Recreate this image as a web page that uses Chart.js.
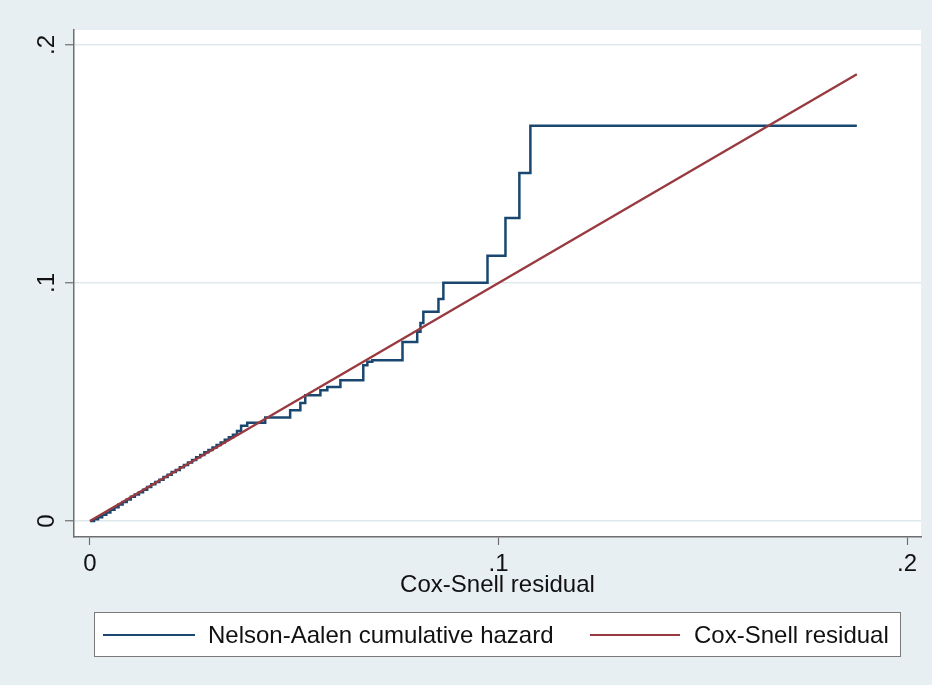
<!DOCTYPE html>
<html>
<head>
<meta charset="utf-8">
<script src="https://cdn.jsdelivr.net/npm/chart.js@4"></script>
<style>
  html, body { margin: 0; padding: 0; background: #e8eff2; }
  canvas { display: block; }
</style>
</head>
<body>
<canvas id="chart" width="932" height="685"></canvas>
<script>
// Nelson-Aalen cumulative hazard (step function)
const naX = [0, 0.001, 0.002, 0.003, 0.004, 0.005, 0.006, 0.007, 0.008, 0.009,
  0.010, 0.011, 0.012, 0.013, 0.014, 0.015, 0.016, 0.017, 0.018, 0.019,
  0.020, 0.021, 0.022, 0.023, 0.024, 0.025, 0.026, 0.027, 0.028, 0.029,
  0.030, 0.031, 0.032, 0.033, 0.034, 0.035, 0.036, 0.0370,
  0.0385, 0.0429, 0.0490, 0.0515, 0.0527, 0.0564, 0.0581, 0.0613, 0.0669, 0.0679,
  0.0691, 0.0765, 0.0801, 0.0809, 0.0816, 0.0853, 0.0865, 0.0973, 0.1017, 0.1051,
  0.1078, 0.1877];
const naY = [0, 0.0008, 0.0016, 0.0026, 0.0036, 0.0047, 0.0058, 0.0070, 0.0080, 0.0091,
  0.0102, 0.0112, 0.0121, 0.0132, 0.0143, 0.0155, 0.0164, 0.0174, 0.0185, 0.0195,
  0.0206, 0.0215, 0.0226, 0.0236, 0.0246, 0.0257, 0.0268, 0.0278, 0.0289, 0.0298,
  0.0309, 0.0320, 0.0330, 0.0342, 0.0352, 0.0363, 0.0378, 0.0400,
  0.0413, 0.0435, 0.0466, 0.0496, 0.0529, 0.0550, 0.0563, 0.0592, 0.0655, 0.0669,
  0.0676, 0.0752, 0.0795, 0.0832, 0.0879, 0.0933, 0.1001, 0.1115, 0.1273, 0.1462,
  0.1661, 0.1661];

// Cox-Snell residual reference line
const csX = [0, 0.1877];
const csY = [0, 0.1877];

const xTicks = [0, 0.1, 0.2];
const yTicks = [0, 0.1, 0.2];
const seriesLabels = ['Nelson-Aalen cumulative hazard', 'Cox-Snell residual'];
const xTitle = 'Cox-Snell residual';

const BLUE = '#1a476f';
const RED = '#983a3f';
const AXIS = '#6e6e6e';
const FONT = "'Liberation Sans', Arial, sans-serif";

const fmt = v => v === 0 ? '0' : String(v).replace(/^0/, '');

// white plot region
const plotBg = {
  id: 'plotBg',
  beforeDraw(chart) {
    const { ctx, chartArea: a } = chart;
    ctx.save();
    ctx.fillStyle = '#ffffff';
    ctx.fillRect(a.left, a.top, a.right - a.left, a.bottom - a.top);
    ctx.restore();
  }
};

// rotated y tick labels (Stata style) + boxed legend
const extras = {
  id: 'extras',
  afterDraw(chart) {
    const ctx = chart.ctx;
    const y = chart.scales.y;
    ctx.save();
    ctx.font = '24px ' + FONT;
    ctx.fillStyle = '#111';
    ctx.textAlign = 'center';
    ctx.textBaseline = 'middle';
    y.ticks.forEach(t => {
      const py = y.getPixelForValue(t.value);
      ctx.save();
      ctx.translate(47, py);
      ctx.rotate(-Math.PI / 2);
      ctx.fillText(fmt(t.value), 0, 0);
      ctx.restore();
    });

    // legend box
    ctx.fillStyle = '#ffffff';
    ctx.fillRect(94.5, 612.5, 806, 44);
    ctx.strokeStyle = '#7a7a7a';
    ctx.lineWidth = 1;
    ctx.strokeRect(94.5, 612.5, 806, 44);

    const items = [
      { x0: 103, x1: 195, tx: 208 },
      { x0: 590, x1: 680, tx: 694 }
    ];
    chart.data.datasets.forEach((ds, i) => {
      const it = items[i];
      ctx.strokeStyle = ds.borderColor;
      ctx.lineWidth = 2.2;
      ctx.beginPath();
      ctx.moveTo(it.x0, 635);
      ctx.lineTo(it.x1, 635);
      ctx.stroke();
      ctx.fillStyle = '#111';
      ctx.textAlign = 'left';
      ctx.textBaseline = 'middle';
      ctx.fillText(ds.label, it.tx, 636);
    });
    ctx.restore();
  }
};

new Chart(document.getElementById('chart'), {
  type: 'scatter',
  data: {
    datasets: [
      {
        label: seriesLabels[0],
        data: naX.map((x, i) => ({ x, y: naY[i] })),
        showLine: true,
        stepped: true,
        borderColor: BLUE,
        borderWidth: 2.5,
        pointRadius: 0,
        order: 2
      },
      {
        label: seriesLabels[1],
        data: csX.map((x, i) => ({ x, y: csY[i] })),
        showLine: true,
        borderColor: RED,
        borderWidth: 2.4,
        pointRadius: 0,
        order: 1
      }
    ]
  },
  options: {
    responsive: false,
    animation: false,
    layout: { padding: { left: 0, top: 30, right: 11, bottom: 85 } },
    plugins: {
      legend: { display: false },
      tooltip: { enabled: false }
    },
    scales: {
      x: {
        type: 'linear',
        min: -0.0039,
        max: 0.2034,
        afterBuildTicks: s => { s.ticks = xTicks.map(v => ({ value: v })); },
        afterFit: s => { s.height = 63; },
        grid: { drawOnChartArea: false, drawTicks: true, tickLength: 8, tickColor: AXIS, tickWidth: 1.2 },
        border: { display: true, color: AXIS, width: 1.5 },
        ticks: {
          font: { family: FONT, size: 24 },
          color: '#111',
          padding: 5,
          maxRotation: 0,
          callback: v => fmt(v)
        },
        title: {
          display: true,
          text: xTitle,
          font: { family: FONT, size: 24 },
          color: '#111',
          padding: { top: 0, bottom: 0 }
        }
      },
      y: {
        type: 'linear',
        min: -0.0067,
        max: 0.2063,
        afterBuildTicks: s => { s.ticks = yTicks.map(v => ({ value: v })); },
        afterFit: s => { s.width = 74; },
        grid: { color: '#dfe9ed', lineWidth: 1.5, drawTicks: true, tickLength: 9, tickColor: AXIS, tickWidth: 1.2 },
        border: { display: true, color: AXIS, width: 1.5 },
        ticks: {
          font: { family: FONT, size: 24 },
          color: 'rgba(0,0,0,0)',
          callback: v => fmt(v)
        }
      }
    }
  },
  plugins: [plotBg, extras]
});
</script>
</body>
</html>
